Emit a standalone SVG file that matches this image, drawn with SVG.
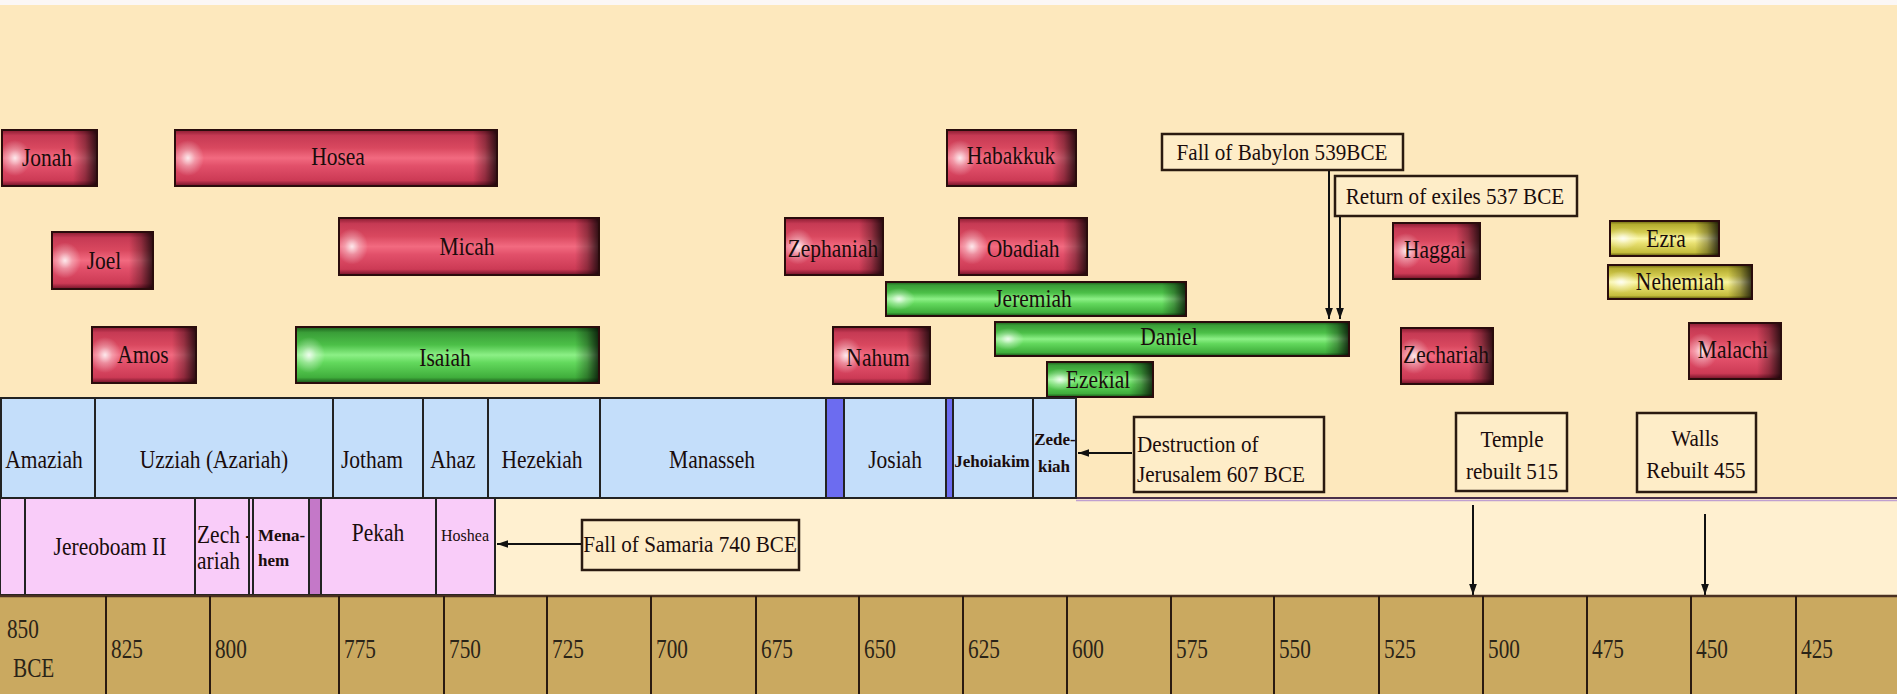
<svg xmlns="http://www.w3.org/2000/svg" width="1897" height="694" viewBox="0 0 1897 694">
<defs>
<linearGradient id="gR" x1="0" y1="0" x2="0" y2="1">
<stop offset="0" stop-color="#8a1c32"/><stop offset=".1" stop-color="#c63a54"/><stop offset=".32" stop-color="#d9485f"/><stop offset=".5" stop-color="#f26a80"/><stop offset=".64" stop-color="#e2506a"/><stop offset=".9" stop-color="#cc3a55"/><stop offset="1" stop-color="#701228"/>
</linearGradient>
<linearGradient id="gG" x1="0" y1="0" x2="0" y2="1">
<stop offset="0" stop-color="#1c601c"/><stop offset=".1" stop-color="#3a9e38"/><stop offset=".32" stop-color="#4cc048"/><stop offset=".5" stop-color="#8cf086"/><stop offset=".64" stop-color="#62d85c"/><stop offset=".9" stop-color="#40ae3c"/><stop offset="1" stop-color="#185018"/>
</linearGradient>
<linearGradient id="gY" x1="0" y1="0" x2="0" y2="1">
<stop offset="0" stop-color="#6a6410"/><stop offset=".1" stop-color="#b4ac30"/><stop offset=".32" stop-color="#d4cc50"/><stop offset=".5" stop-color="#faf6a4"/><stop offset=".64" stop-color="#e8e070"/><stop offset=".9" stop-color="#c4bc3c"/><stop offset="1" stop-color="#58520a"/>
</linearGradient>
<radialGradient id="gl">
<stop offset="0" stop-color="#fff" stop-opacity=".85"/><stop offset=".45" stop-color="#fff" stop-opacity=".35"/><stop offset="1" stop-color="#fff" stop-opacity="0"/>
</radialGradient>
<linearGradient id="gs" x1="0" y1="0" x2="1" y2="0">
<stop offset="0" stop-color="#000" stop-opacity="0"/><stop offset=".5" stop-color="#000" stop-opacity=".3"/><stop offset="1" stop-color="#000" stop-opacity=".78"/>
</linearGradient>
<marker id="ah" viewBox="0 0 10 10" refX="10" refY="5" markerWidth="11" markerHeight="11" markerUnits="userSpaceOnUse" orient="auto">
<path d="M0,1.5 L10,5 L0,8.5 z" fill="#111"/>
</marker>
</defs>
<style>
.red .b{fill:url(#gR)}
.green .b{fill:url(#gG)}
.yel .b{fill:url(#gY)}
.glow{fill:url(#gl)}
.sh{fill:url(#gs)}
.o{fill:none;stroke:#2a0c0c;stroke-width:2}
text{font-family:"Liberation Serif","Times New Roman",serif;fill:#1a0c0c}
.tp{font-size:25px;text-anchor:middle;transform-box:fill-box;transform-origin:center;transform:scaleX(.86)}
.tpl{font-size:25px;text-anchor:start;transform-box:fill-box;transform-origin:left center;transform:scaleX(.86)}
.te{font-size:23px;text-anchor:middle;transform-box:fill-box;transform-origin:center;transform:scaleX(.92)}
.tel{font-size:23px;text-anchor:start;transform-box:fill-box;transform-origin:left center;transform:scaleX(.92)}
.tt{font-size:28px;text-anchor:start;fill:#2a2418;transform-box:fill-box;transform-origin:left center;transform:scaleX(.76)}
.tb{font-size:17px;font-weight:bold;text-anchor:middle}
.tbl{font-size:17px;font-weight:bold;text-anchor:start}
.ts{font-size:16px;text-anchor:middle}
.jc{fill:#c4defa;stroke:#222;stroke-width:2}
.jd{fill:#6c6cf0;stroke:#222;stroke-width:2}
.ic{fill:#f9ccf9;stroke:#222;stroke-width:2}
.id{fill:#c478c8;stroke:#222;stroke-width:2}
.ev{fill:#feedc8;stroke:#2a1a10;stroke-width:2.5}
.tk{stroke:#2a1a10;stroke-width:2}
.ar{stroke:#111;stroke-width:2;fill:none;marker-end:url(#ah)}
</style>

<rect x="0" y="0" width="1897" height="694" fill="#fde8bd"/>
<rect x="0" y="499" width="1897" height="97" fill="#fff0d0"/>
<rect x="0" y="0" width="1897" height="5" fill="#fbf7f6"/>
<line x1="1076" y1="498" x2="1897" y2="498" stroke="#4a304a" stroke-width="2"/>
<line x1="1076" y1="500.5" x2="1897" y2="500.5" stroke="#c0a0d0" stroke-width="1.5"/>

<g id="prophets">
<g id="p-jonah" class="red"><rect class="b" x="2" y="130" width="95" height="56"/><ellipse class="glow" cx="15" cy="158" rx="16" ry="18"/><rect class="sh" x="73" y="130" width="24" height="56"/><rect class="o" x="2" y="130" width="95" height="56"/><text class="tp" x="47" y="166">Jonah</text></g>
<g id="p-hosea" class="red"><rect class="b" x="175" y="130" width="322" height="56"/><ellipse class="glow" cx="188" cy="158" rx="16" ry="18"/><rect class="sh" x="473" y="130" width="24" height="56"/><rect class="o" x="175" y="130" width="322" height="56"/><text class="tp" x="338" y="165">Hosea</text></g>
<g id="p-joel" class="red"><rect class="b" x="52" y="232" width="101" height="57"/><ellipse class="glow" cx="65" cy="260.5" rx="16" ry="18"/><rect class="sh" x="129" y="232" width="24" height="57"/><rect class="o" x="52" y="232" width="101" height="57"/><text class="tp" x="104" y="269">Joel</text></g>
<g id="p-micah" class="red"><rect class="b" x="339" y="218" width="260" height="57"/><ellipse class="glow" cx="352" cy="246.5" rx="16" ry="18"/><rect class="sh" x="575" y="218" width="24" height="57"/><rect class="o" x="339" y="218" width="260" height="57"/><text class="tp" x="467" y="255">Micah</text></g>
<g id="p-amos" class="red"><rect class="b" x="92" y="327" width="104" height="56"/><ellipse class="glow" cx="105" cy="355" rx="16" ry="18"/><rect class="sh" x="172" y="327" width="24" height="56"/><rect class="o" x="92" y="327" width="104" height="56"/><text class="tp" x="143" y="363">Amos</text></g>
<g id="p-isaiah" class="green"><rect class="b" x="296" y="327" width="303" height="56"/><ellipse class="glow" cx="309" cy="355" rx="16" ry="18"/><rect class="sh" x="575" y="327" width="24" height="56"/><rect class="o" x="296" y="327" width="303" height="56"/><text class="tp" x="445" y="366">Isaiah</text></g>
<g id="p-habakkuk" class="red"><rect class="b" x="947" y="130" width="129" height="56"/><ellipse class="glow" cx="960" cy="158" rx="16" ry="18"/><rect class="sh" x="1052" y="130" width="24" height="56"/><rect class="o" x="947" y="130" width="129" height="56"/><text class="tp" x="1011" y="164">Habakkuk</text></g>
<g id="p-zephaniah" class="red"><rect class="b" x="785" y="218" width="98" height="57"/><ellipse class="glow" cx="798" cy="246.5" rx="16" ry="18"/><rect class="sh" x="859" y="218" width="24" height="57"/><rect class="o" x="785" y="218" width="98" height="57"/><text class="tp" x="833" y="257">Zephaniah</text></g>
<g id="p-obadiah" class="red"><rect class="b" x="959" y="218" width="128" height="57"/><ellipse class="glow" cx="972" cy="246.5" rx="16" ry="18"/><rect class="sh" x="1063" y="218" width="24" height="57"/><rect class="o" x="959" y="218" width="128" height="57"/><text class="tp" x="1023" y="257">Obadiah</text></g>
<g id="p-jeremiah" class="green"><rect class="b" x="886" y="282" width="300" height="34"/><ellipse class="glow" cx="899" cy="299" rx="16" ry="11"/><rect class="sh" x="1162" y="282" width="24" height="34"/><rect class="o" x="886" y="282" width="300" height="34"/><text class="tp" x="1033" y="307">Jeremiah</text></g>
<g id="p-daniel" class="green"><rect class="b" x="995" y="322" width="354" height="34"/><ellipse class="glow" cx="1008" cy="339" rx="16" ry="11"/><rect class="sh" x="1325" y="322" width="24" height="34"/><rect class="o" x="995" y="322" width="354" height="34"/><text class="tp" x="1169" y="345">Daniel</text></g>
<g id="p-nahum" class="red"><rect class="b" x="833" y="327" width="97" height="57"/><ellipse class="glow" cx="846" cy="355.5" rx="16" ry="18"/><rect class="sh" x="906" y="327" width="24" height="57"/><rect class="o" x="833" y="327" width="97" height="57"/><text class="tp" x="878" y="366">Nahum</text></g>
<g id="p-ezekial" class="green"><rect class="b" x="1047" y="362" width="106" height="35"/><ellipse class="glow" cx="1060" cy="379.5" rx="16" ry="11"/><rect class="sh" x="1129" y="362" width="24" height="35"/><rect class="o" x="1047" y="362" width="106" height="35"/><text class="tp" x="1098" y="388">Ezekial</text></g>
<g id="p-haggai" class="red"><rect class="b" x="1393" y="223" width="87" height="56"/><ellipse class="glow" cx="1406" cy="251" rx="16" ry="18"/><rect class="sh" x="1456" y="223" width="24" height="56"/><rect class="o" x="1393" y="223" width="87" height="56"/><text class="tp" x="1435" y="258">Haggai</text></g>
<g id="p-zechariah" class="red"><rect class="b" x="1401" y="328" width="92" height="56"/><ellipse class="glow" cx="1414" cy="356" rx="16" ry="18"/><rect class="sh" x="1469" y="328" width="24" height="56"/><rect class="o" x="1401" y="328" width="92" height="56"/><text class="tp" x="1446" y="363">Zechariah</text></g>
<g id="p-ezra" class="yel"><rect class="b" x="1610" y="221" width="109" height="35"/><ellipse class="glow" cx="1623" cy="238.5" rx="16" ry="11"/><rect class="sh" x="1695" y="221" width="24" height="35"/><rect class="o" x="1610" y="221" width="109" height="35"/><text class="tp" x="1666" y="247">Ezra</text></g>
<g id="p-nehemiah" class="yel"><rect class="b" x="1608" y="265" width="144" height="34"/><ellipse class="glow" cx="1621" cy="282" rx="16" ry="11"/><rect class="sh" x="1728" y="265" width="24" height="34"/><rect class="o" x="1608" y="265" width="144" height="34"/><text class="tp" x="1680" y="290">Nehemiah</text></g>
<g id="p-malachi" class="red"><rect class="b" x="1689" y="323" width="92" height="56"/><ellipse class="glow" cx="1702" cy="351" rx="16" ry="18"/><rect class="sh" x="1757" y="323" width="24" height="56"/><rect class="o" x="1689" y="323" width="92" height="56"/><text class="tp" x="1733" y="358">Malachi</text></g>
</g>

<g id="judah">
<g id="k-amaziah"><rect class="jc" x="1" y="398" width="94" height="100"/><text class="tp" x="44" y="468">Amaziah</text></g>
<g id="k-uzziah"><rect class="jc" x="95" y="398" width="238" height="100"/><text class="tp" x="214" y="468">Uzziah (Azariah)</text></g>
<g id="k-jotham"><rect class="jc" x="333" y="398" width="90" height="100"/><text class="tp" x="372" y="468">Jotham</text></g>
<g id="k-ahaz"><rect class="jc" x="423" y="398" width="65" height="100"/><text class="tp" x="453" y="468">Ahaz</text></g>
<g id="k-hezekiah"><rect class="jc" x="488" y="398" width="112" height="100"/><text class="tp" x="542" y="468">Hezekiah</text></g>
<g id="k-manasseh"><rect class="jc" x="600" y="398" width="226" height="100"/><text class="tp" x="712" y="468">Manasseh</text></g>
<g id="k-amon"><rect class="jd" x="826" y="398" width="18" height="100"/></g>
<g id="k-josiah"><rect class="jc" x="844" y="398" width="102" height="100"/><text class="tp" x="895" y="468">Josiah</text></g>
<g id="k-jehoahaz"><rect class="jd" x="946" y="398" width="7" height="100"/></g>
<g id="k-jehoiakim"><rect class="jc" x="953" y="398" width="80" height="100"/><text class="tb" x="992" y="467">Jehoiakim</text></g>
<g id="k-zedekiah"><rect class="jc" x="1033" y="398" width="43" height="100"/><text class="tb" x="1055" y="445">Zede-</text><text class="tb" x="1054" y="472">kiah</text></g>
</g>

<g id="israel">
<g id="i-first"><rect class="ic" x="0" y="498" width="25" height="97"/></g>
<g id="i-jeroboam"><rect class="ic" x="25" y="498" width="170" height="97"/><text class="tp" x="110" y="555">Jereoboam II</text></g>
<g id="i-zechariah"><rect class="ic" x="195" y="498" width="54" height="97"/><text class="tpl" x="197" y="543">Zech -</text><text class="tpl" x="197" y="569">ariah</text></g>
<g id="i-shallum"><rect class="ic" x="249" y="498" width="4" height="97"/></g>
<g id="i-menahem"><rect class="ic" x="253" y="498" width="56" height="97"/><text class="tbl" x="258" y="541">Mena-</text><text class="tbl" x="258" y="566">hem</text></g>
<g id="i-pekahiah"><rect class="id" x="309" y="498" width="12" height="97"/></g>
<g id="i-pekah"><rect class="ic" x="321" y="498" width="115" height="97"/><text class="tp" x="378" y="541">Pekah</text></g>
<g id="i-hoshea"><rect class="ic" x="436" y="498" width="59" height="97"/><text class="ts" x="465" y="541">Hoshea</text></g>
</g>

<g id="events">
<g id="e-babylon"><rect class="ev" x="1162" y="134" width="241" height="36"/><text class="te" x="1282" y="160">Fall of Babylon 539BCE</text></g>
<g id="e-return"><rect class="ev" x="1335" y="176" width="242" height="40"/><text class="te" x="1455" y="204">Return of exiles 537 BCE</text></g>
<g id="e-destruction"><rect class="ev" x="1134" y="417" width="190" height="75"/><text class="tel" x="1137" y="452">Destruction of</text><text class="tel" x="1137" y="482">Jerusalem 607 BCE</text></g>
<g id="e-samaria"><rect class="ev" x="582" y="520" width="217" height="50"/><text class="te" x="690" y="552">Fall of Samaria 740 BCE</text></g>
<g id="e-temple"><rect class="ev" x="1456" y="413" width="111" height="78"/><text class="te" x="1512" y="447">Temple</text><text class="te" x="1512" y="479">rebuilt 515</text></g>
<g id="e-walls"><rect class="ev" x="1637" y="413" width="119" height="79"/><text class="te" x="1695" y="446">Walls</text><text class="te" x="1696" y="478">Rebuilt 455</text></g>
</g>

<g id="connectors">
<path class="ar" d="M1329,171 L1329,319"/>
<path class="ar" d="M1340,217 L1340,319"/>
<path class="ar" d="M1132,453 L1078,453"/>
<path class="ar" d="M581,544 L497,544"/>
<path class="ar" d="M1473,505 L1473,595"/>
<path class="ar" d="M1705,514 L1705,595"/>
</g>

<g id="timeline">
<rect x="0" y="596" width="1897" height="100" fill="#caa960"/>
<line x1="0" y1="596" x2="1897" y2="596" stroke="#4a3020" stroke-width="2.5"/>
<line class="tk" x1="106" y1="596" x2="106" y2="694"/>
<line class="tk" x1="210" y1="596" x2="210" y2="694"/>
<line class="tk" x1="339" y1="596" x2="339" y2="694"/>
<line class="tk" x1="444" y1="596" x2="444" y2="694"/>
<line class="tk" x1="547" y1="596" x2="547" y2="694"/>
<line class="tk" x1="651" y1="596" x2="651" y2="694"/>
<line class="tk" x1="756" y1="596" x2="756" y2="694"/>
<line class="tk" x1="859" y1="596" x2="859" y2="694"/>
<line class="tk" x1="963" y1="596" x2="963" y2="694"/>
<line class="tk" x1="1067" y1="596" x2="1067" y2="694"/>
<line class="tk" x1="1171" y1="596" x2="1171" y2="694"/>
<line class="tk" x1="1274" y1="596" x2="1274" y2="694"/>
<line class="tk" x1="1379" y1="596" x2="1379" y2="694"/>
<line class="tk" x1="1483" y1="596" x2="1483" y2="694"/>
<line class="tk" x1="1587" y1="596" x2="1587" y2="694"/>
<line class="tk" x1="1691" y1="596" x2="1691" y2="694"/>
<line class="tk" x1="1796" y1="596" x2="1796" y2="694"/>
<text class="tt" x="7" y="638">850</text>
<text class="tt" x="13" y="677">BCE</text>
<text class="tt" x="111" y="658">825</text>
<text class="tt" x="215" y="658">800</text>
<text class="tt" x="344" y="658">775</text>
<text class="tt" x="449" y="658">750</text>
<text class="tt" x="552" y="658">725</text>
<text class="tt" x="656" y="658">700</text>
<text class="tt" x="761" y="658">675</text>
<text class="tt" x="864" y="658">650</text>
<text class="tt" x="968" y="658">625</text>
<text class="tt" x="1072" y="658">600</text>
<text class="tt" x="1176" y="658">575</text>
<text class="tt" x="1279" y="658">550</text>
<text class="tt" x="1384" y="658">525</text>
<text class="tt" x="1488" y="658">500</text>
<text class="tt" x="1592" y="658">475</text>
<text class="tt" x="1696" y="658">450</text>
<text class="tt" x="1801" y="658">425</text>
</g>
</svg>
